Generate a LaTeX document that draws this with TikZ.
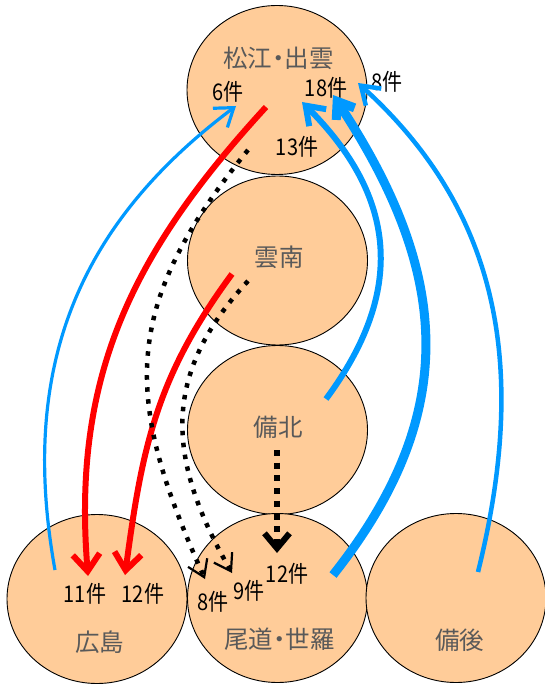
\documentclass[tikz,border=0pt]{standalone}
\usepackage{fontspec}
\usepackage{graphicx}
\setmainfont{Noto Sans CJK JP}
\usetikzlibrary{arrows.meta,shapes.geometric}
\definecolor{peach}{HTML}{FFCC99}
\definecolor{skyblue}{HTML}{0099FF}
\definecolor{labelgray}{HTML}{595959}
\newcommand{\nakaguro}{\kern-6pt・\kern-6pt}
\newcommand{\narrowtext}[1]{\scalebox{0.87}[1]{#1}}

\begin{document}
\begin{tikzpicture}[x=1pt,y=-1pt,
  area/.style={ellipse, draw=black, line width=0.9pt, fill=peach,
    minimum width=180pt, minimum height=169pt, inner sep=0pt},
  place/.style={text=labelgray, font=\fontsize{24.5}{24.5}\selectfont, inner sep=0pt},
  count/.style={text=black, font=\fontsize{23}{23}\selectfont, inner sep=0pt},
  blueflow/.style={draw=skyblue},
  redflow/.style={draw=red, line width=6pt,
    -{Straight Barb[length=17pt,width=27pt]}},
  dotflow/.style={draw=black, line width=4.5pt, dash pattern=on 4.5pt off 7.5pt,
    -{Straight Barb[length=16pt,width=21pt,line width=2.2pt]}}
]
\useasboundingbox (0,0) rectangle (544,684);

% regions
\node[area] (matsue) at (277,90) {};
\node[area] (unnan)  at (277.5,260.5) {};
\node[area] (bihoku) at (277.5,430) {};
\node[area] (hiroshima) at (97,599) {};
\node[area] (onomichi) at (277.5,598) {};
\node[area] (bingo) at (456,598) {};

% region names
\node[place] (t-matsue) at (278.5,58) {松江\nakaguro 出雲};
\node[place] (t-unnan) at (279,257) {雲南};
\node[place] (t-bihoku) at (278,427) {備北};
\node[place] (t-hiroshima) at (99.5,642) {広島};
\node[place] (t-onomichi) at (279.5,639) {尾道\nakaguro 世羅};
\node[place] (t-bingo) at (459.5,640) {備後};

% counts
\node[count] (c6)  at (228,92)  {\narrowtext{6件}};
\node[count] (c18) at (326,88)  {\narrowtext{18件}};
\node[count] (c8a) at (387,82)  {\narrowtext{8件}};
\node[count] (c13) at (297,147) {\narrowtext{13件}};
\node[count] (c11) at (85,594)  {\narrowtext{11件}};
\node[count] (c12a) at (143,594) {\narrowtext{12件}};
\node[count] (c8b) at (213,602) {\narrowtext{8件}};
\node[count] (c9)  at (249,591) {\narrowtext{9件}};
\node[count] (c12b) at (287,574) {\narrowtext{12件}};

% connector ends
\coordinate (hi-out) at (55,570);
\coordinate (ma-in6) at (236,106);
\coordinate (ma-outR) at (266,107);
\coordinate (hi-in11) at (88,576);
\coordinate (un-outR) at (232,274);
\coordinate (hi-in12) at (125,575);
\coordinate (ma-outD) at (248,150);
\coordinate (on-in8) at (205,579);
\coordinate (un-outD) at (248,281);
\coordinate (on-in9) at (232,573);
\coordinate (bh-outD) at (277,450);
\coordinate (on-in12) at (277,553);
\coordinate (bh-out) at (326,399);
\coordinate (ma-in13) at (302,102);
\coordinate (on-out) at (333,575);
\coordinate (ma-in18) at (333,95);
\coordinate (bg-out) at (478,572);
\coordinate (ma-in8) at (358,83);

% flows towards Hiroshima
\draw[redflow] (ma-outR) .. controls (131,254) and (72,377) .. (hi-in11);
\draw[redflow] (un-outR) .. controls (156,377) and (142,448) .. (hi-in12);

% flows towards Onomichi / Sera
\draw[dotflow] (ma-outD) .. controls (118,310) and (125,401) .. (on-in8);
\draw[dotflow] (un-outD) .. controls (160,376) and (167,460) .. (on-in9);
\draw[draw=black, line width=6pt, dash pattern=on 6pt off 6.7pt,
  -{Straight Barb[length=15pt,width=25pt,line width=6pt]}] (bh-outD) -- (on-in12);

% flows towards Matsue / Izumo
\draw[blueflow, line width=3.2pt, -{Straight Barb[length=17pt,width=24pt]}]
  (hi-out) .. controls (19,370) and (76,226) .. (ma-in6);
\draw[blueflow, line width=6pt, -{Straight Barb[length=17pt,width=24pt]}]
  (bh-out) .. controls (406,291) and (397,197) .. (ma-in13);
\draw[blueflow, line width=9pt, -{Straight Barb[length=15pt,width=22pt]}]
  (on-out) .. controls (463,411) and (448.5,271) .. (ma-in18);
\draw[blueflow, line width=4.5pt, -{Straight Barb[length=17pt,width=23pt]}]
  (bg-out) .. controls (526,378) and (506,217) .. (ma-in8);
\end{tikzpicture}
\end{document}
